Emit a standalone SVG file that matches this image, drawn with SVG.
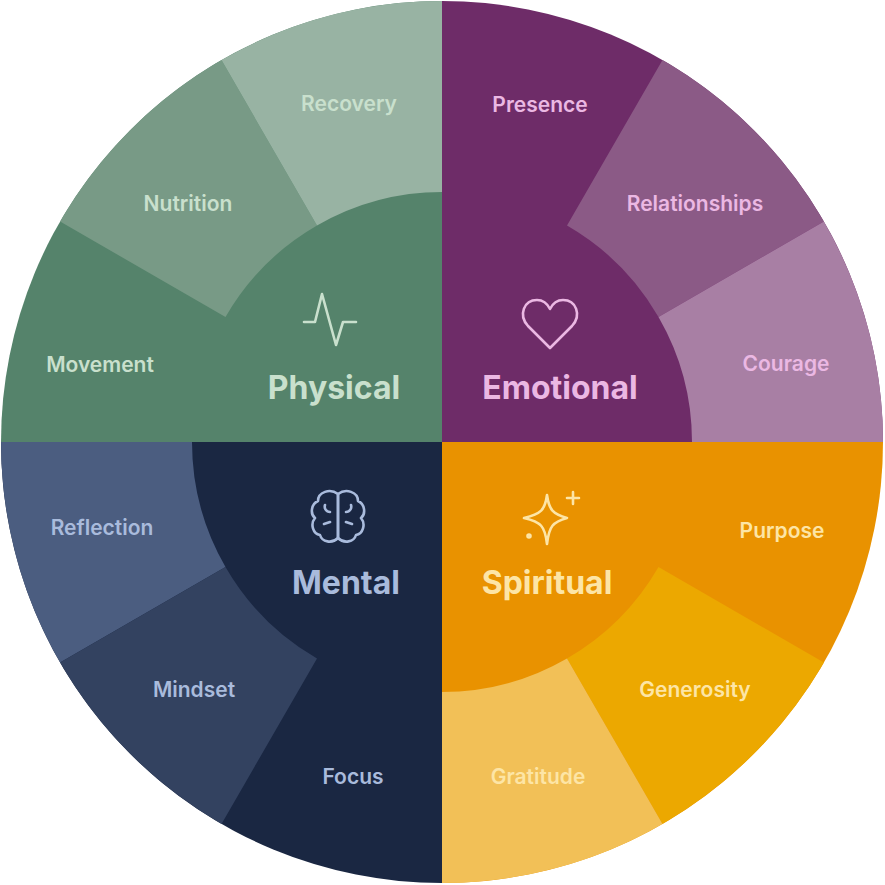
<svg xmlns="http://www.w3.org/2000/svg" width="885" height="885" viewBox="0 0 885 885">
<style>
.lbl{font-family:Inter,"Liberation Sans",sans-serif;font-size:21px;font-weight:600;text-anchor:middle;dominant-baseline:middle}
.big{font-family:Inter,"Liberation Sans",sans-serif;font-size:32px;font-weight:700;text-anchor:middle;dominant-baseline:middle}
.ic{fill:none;stroke-width:2.6;stroke-linecap:round;stroke-linejoin:round}
</style>
<rect width="885" height="885" fill="#fff"/>
<g id="physical">
<path d="M442,442 L1,442 A441,441 0 0 1 442,1 Z" fill="#55836b"/>
<path d="M60.1,221.5 A441,441 0 0 1 221.5,60.1 L317,225.5 A250,250 0 0 0 225.5,317 Z" fill="#789a86"/>
<path d="M221.5,60.1 A441,441 0 0 1 442,1 L442,192 A250,250 0 0 0 317,225.5 Z" fill="#98b3a3"/>
<g fill="#c9e0cd"><text class="lbl" x="100" y="366">Movement</text><text class="lbl" x="188" y="205">Nutrition</text><text class="lbl" x="349" y="105">Recovery</text><text class="big" x="334" y="390">Physical</text></g>
<path class="ic" stroke="#c9e0cd" d="M304,322 L315,322 L322,294 L336,345 L343,322 L356,322"/>
</g>
<g id="emotional">
<path d="M442,442 L442,1 A441,441 0 0 1 883,442 Z" fill="#6e2c68"/>
<path d="M662.5,60.1 A441,441 0 0 1 823.9,221.5 L658.5,317 A250,250 0 0 0 567,225.5 Z" fill="#8b5a86"/>
<path d="M823.9,221.5 A441,441 0 0 1 883,442 L692,442 A250,250 0 0 0 658.5,317 Z" fill="#a87fa4"/>
<g fill="#ebb8e3"><text class="lbl" x="540" y="106">Presence</text><text class="lbl" x="695" y="205">Relationships</text><text class="lbl" x="786" y="365">Courage</text><text class="big" x="560" y="390">Emotional</text></g>
<path class="ic" stroke="#ebb8e3" d="M550,348 L528,326 C518,315 524,300 537,300 C544,300 548,305 550,309 C552,305 556,300 563,300 C576,300 582,315 572,326 Z"/>
</g>
<g id="mental">
<path d="M442,442 L442,883 A441,441 0 0 1 1,442 Z" fill="#1a2742"/>
<path d="M1,442 A441,441 0 0 0 60.1,662.5 L225.5,567 A250,250 0 0 1 192,442 Z" fill="#4b5d80"/>
<path d="M60.1,662.5 A441,441 0 0 0 221.5,823.9 L317,658.5 A250,250 0 0 1 225.5,567 Z" fill="#334260"/>
<g fill="#a9bbdc"><text class="lbl" x="102" y="529">Reflection</text><text class="lbl" x="194" y="691">Mindset</text><text class="lbl" x="353" y="778">Focus</text><text class="big" x="346" y="585">Mental</text></g>
<g class="ic" stroke="#a9bbdc"><path d="M338,494 C330,488 318,492 318,501 C311,504 310,514 315,518 C310,524 313,534 320,535 C322,542 332,544 338,538 Z"/><path d="M338,494 C346,488 358,492 358,501 C365,504 366,514 361,518 C366,524 363,534 356,535 C354,542 344,544 338,538"/><path d="M338,494 L338,538 M330,512 C326,512 324,508 325,505 M346,512 C350,512 352,508 351,505 M330,522 L324,524 M346,522 L352,524"/></g>
</g>
<g id="spiritual">
<path d="M442,442 L883,442 A441,441 0 0 1 442,883 Z" fill="#e99200"/>
<path d="M823.9,662.5 A441,441 0 0 1 662.5,823.9 L567,658.5 A250,250 0 0 0 658.5,567 Z" fill="#eca800"/>
<path d="M662.5,823.9 A441,441 0 0 1 442,883 L442,692 A250,250 0 0 0 567,658.5 Z" fill="#f2c057"/>
<g fill="#fde5a6"><text class="lbl" x="782" y="532">Purpose</text><text class="lbl" x="695" y="691">Generosity</text><text class="lbl" x="538" y="778">Gratitude</text><text class="big" x="547" y="585">Spiritual</text></g>
<g class="ic" stroke="#fde5a6"><path d="M547,495 C549,510 553,514 567,518 C553,522 549,526 547,544 C545,526 541,522 524,518 C541,514 545,510 547,495 Z"/><path d="M573,492 L573,504 M567,498 L579,498"/><circle cx="529" cy="536" r="1.5"/></g>
</g>
<g id="connectors"/>
</svg>
